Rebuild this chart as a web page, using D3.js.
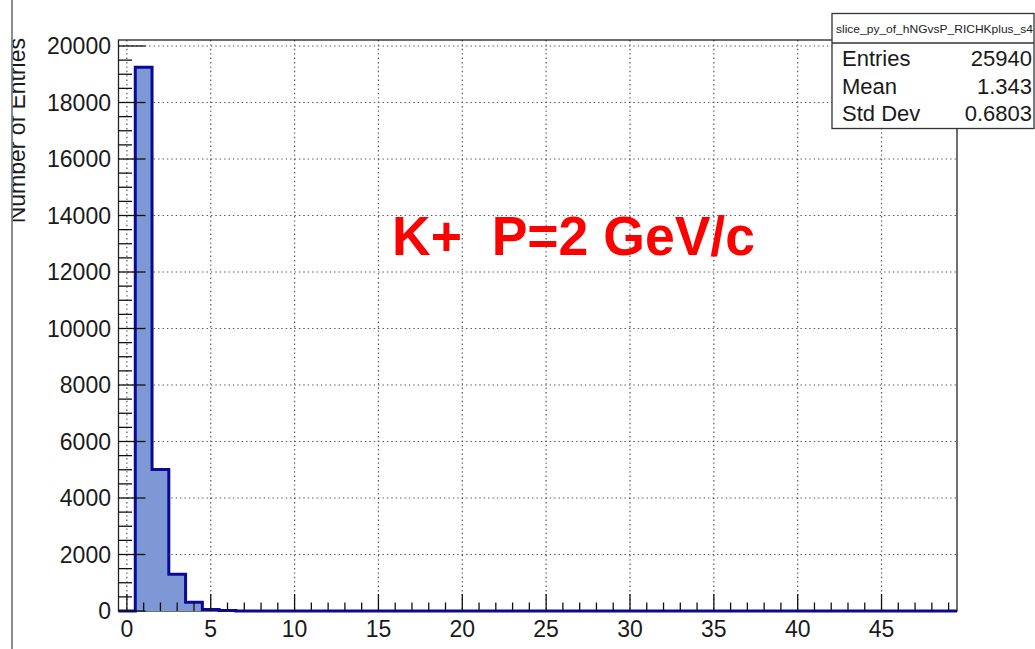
<!DOCTYPE html>
<html>
<head>
<meta charset="utf-8">
<script src="https://cdn.jsdelivr.net/npm/d3@7"></script>
<style>
  html, body { margin: 0; padding: 0; background: #fff; }
  svg { display: block; }
  text { font-family: "Liberation Sans", Arial, Helvetica, sans-serif; }
</style>
</head>
<body>
<svg id="chart" width="1035" height="649"></svg>
<script>
// Histogram binning: 50 unit-wide bins from -0.5 to 49.5
const binLow = -0.5;
const binHigh = 49.5;
// Bin contents (number of entries per bin, bins centred on 0, 1, 2, ...)
const counts = [
  0, 19250, 5010, 1300, 310, 50, 20, 0, 0, 0,
  0, 0, 0, 0, 0, 0, 0, 0, 0, 0,
  0, 0, 0, 0, 0, 0, 0, 0, 0, 0,
  0, 0, 0, 0, 0, 0, 0, 0, 0, 0,
  0, 0, 0, 0, 0, 0, 0, 0, 0, 0
];
const xTicks = [0, 5, 10, 15, 20, 25, 30, 35, 40, 45];
const yTicks = [0, 2000, 4000, 6000, 8000, 10000, 12000, 14000, 16000, 18000, 20000];
const yTitle = "Number of Entries";
const statsName = "slice_py_of_hNGvsP_RICHKplus_s4";
const statsLabels = ["Entries", "Mean", "Std Dev"];
const statsValues = ["25940", "1.343", "0.6803"];
const annotation = "K+  P=2 GeV/c";

const svg = d3.select("#chart");
const frame = { left: 118.5, right: 957, top: 40, bottom: 611 };

const x = d3.scaleLinear().domain([binLow, binHigh]).range([frame.left, frame.right]);
const y = d3.scaleLinear().domain([0, d3.max(counts) * 1.05]).range([frame.bottom, frame.top]);

svg.append("rect").attr("width", 1035).attr("height", 649).attr("fill", "#fff");

// dotted grid at major ticks
const grid = svg.append("g").attr("stroke", "#555").attr("stroke-width", 1.2)
  .attr("stroke-dasharray", "1.4,3");
grid.selectAll("line.gx").data(xTicks).join("line")
  .attr("x1", d => x(d)).attr("x2", d => x(d))
  .attr("y1", frame.top).attr("y2", frame.bottom);
grid.selectAll("line.gy").data(yTicks.filter(d => d > 0)).join("line")
  .attr("x1", frame.left).attr("x2", frame.right)
  .attr("y1", d => y(d)).attr("y2", d => y(d));

// frame
svg.append("rect")
  .attr("x", frame.left).attr("y", frame.top)
  .attr("width", frame.right - frame.left).attr("height", frame.bottom - frame.top)
  .attr("fill", "none").attr("stroke", "#222").attr("stroke-width", 1.3);

// histogram: filled steps with outline
const pts = counts.map((c, i) => [binLow + i, c]);
pts.push([binHigh, counts[counts.length - 1]]);

const area = d3.area().curve(d3.curveStepAfter)
  .x(d => x(d[0])).y0(y(0)).y1(d => y(d[1]));
const line = d3.line().curve(d3.curveStepAfter)
  .x(d => x(d[0])).y(d => y(d[1]));

svg.append("path").attr("d", area(pts)).attr("fill", "#7d98d4");
svg.append("path").attr("d", line(pts))
  .attr("fill", "none").attr("stroke", "#0a0a96").attr("stroke-width", 3)
  .attr("stroke-linejoin", "miter");

// x axis ticks (major every 5, minor every 1) drawn inward
const xMinor = d3.range(0, 50).filter(v => v % 5 !== 0);
const ticks = svg.append("g").attr("stroke", "#111").attr("stroke-width", 1.3);
ticks.selectAll("line.xM").data(xTicks).join("line")
  .attr("x1", d => x(d)).attr("x2", d => x(d))
  .attr("y1", frame.bottom).attr("y2", frame.bottom - 17);
ticks.selectAll("line.xm").data(xMinor).join("line")
  .attr("x1", d => x(d)).attr("x2", d => x(d))
  .attr("y1", frame.bottom).attr("y2", frame.bottom - 8.5);

// y axis ticks (major every 2000, minor every 500)
const yMinor = d3.range(500, y.domain()[1], 500).filter(v => v % 2000 !== 0);
ticks.selectAll("line.yM").data(yTicks).join("line")
  .attr("x1", frame.left).attr("x2", frame.left + 27)
  .attr("y1", d => y(d)).attr("y2", d => y(d));
ticks.selectAll("line.ym").data(yMinor).join("line")
  .attr("x1", frame.left).attr("x2", frame.left + 13.5)
  .attr("y1", d => y(d)).attr("y2", d => y(d));

// tick labels
svg.append("g").selectAll("text").data(xTicks).join("text")
  .attr("x", d => x(d)).attr("y", 637)
  .attr("text-anchor", "middle").attr("font-size", 23).attr("fill", "#1a1a1a")
  .text(d => d);
svg.append("g").selectAll("text").data(yTicks).join("text")
  .attr("x", 111).attr("y", d => y(d) + 8.2)
  .attr("text-anchor", "end").attr("font-size", 23).attr("fill", "#1a1a1a")
  .text(d => d);

// y axis title, partly cut by the left edge strip
svg.append("clipPath").attr("id", "leftClip")
  .append("rect").attr("x", 12.5).attr("y", 0).attr("width", 200).attr("height", 649);
svg.append("g").attr("clip-path", "url(#leftClip)")
  .append("text")
  .attr("transform", "translate(25,38) rotate(-90)")
  .attr("text-anchor", "end").attr("font-size", 23).attr("fill", "#1a1a1a")
  .text(yTitle);
svg.append("line").attr("x1", 12).attr("x2", 12).attr("y1", 0).attr("y2", 649)
  .attr("stroke", "#666").attr("stroke-width", 1.5);

// statistics box
const sb = { left: 832, right: 1034, top: 13.5, split: 43, bottom: 128.5 };
svg.append("rect")
  .attr("x", sb.left).attr("y", sb.top)
  .attr("width", sb.right - sb.left).attr("height", sb.bottom - sb.top)
  .attr("fill", "#fff").attr("stroke", "#333").attr("stroke-width", 1.3);
svg.append("line").attr("x1", sb.left).attr("x2", sb.right)
  .attr("y1", sb.split).attr("y2", sb.split)
  .attr("stroke", "#333").attr("stroke-width", 1.3);
svg.append("text").attr("x", 836).attr("y", 33).attr("font-size", 11.5)
  .attr("fill", "#222").attr("textLength", 197).attr("lengthAdjust", "spacingAndGlyphs")
  .text(statsName);
const rowBase = [66, 93.6, 121];
svg.append("g").selectAll("text").data(statsLabels).join("text")
  .attr("x", 842).attr("y", (d, i) => rowBase[i])
  .attr("font-size", 22).attr("fill", "#1a1a1a").text(d => d);
svg.append("g").selectAll("text").data(statsValues).join("text")
  .attr("x", 1032).attr("y", (d, i) => rowBase[i])
  .attr("text-anchor", "end").attr("font-size", 22).attr("fill", "#1a1a1a").text(d => d);

// red annotation
svg.append("text")
  .attr("x", 392).attr("y", 255)
  .attr("font-family", "Lato, 'Liberation Sans', Arial, sans-serif")
  .attr("font-weight", "bold").attr("font-size", 55).attr("fill", "#ff0000")
  .attr("textLength", 363).attr("lengthAdjust", "spacingAndGlyphs")
  .attr("xml:space", "preserve").style("white-space", "pre")
  .text(annotation);
</script>
</body>
</html>
